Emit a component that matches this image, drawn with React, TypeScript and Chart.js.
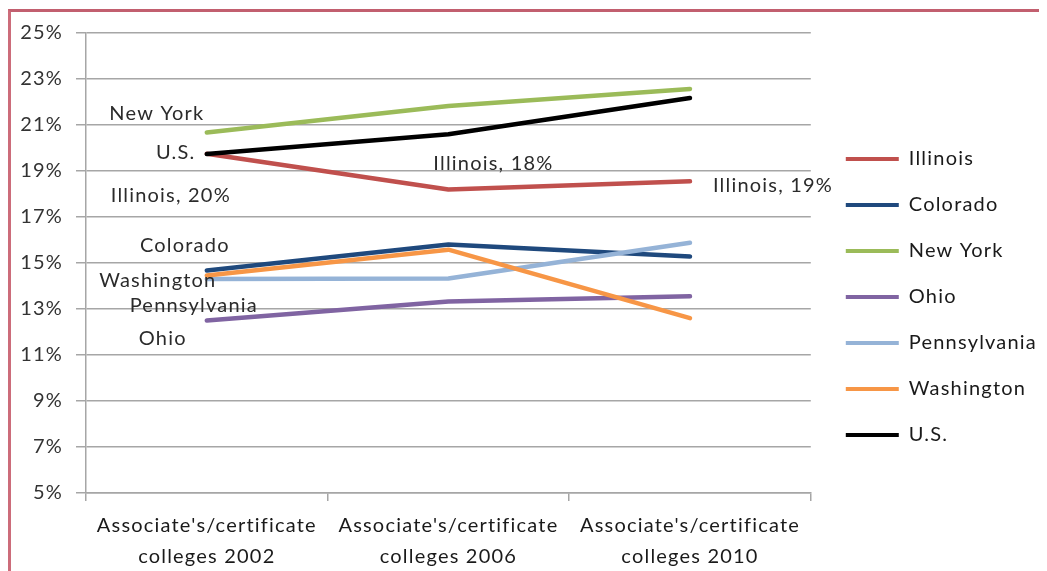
import React, { useEffect, useRef } from 'react';
import { Chart, registerables } from 'chart.js';

Chart.register(...registerables);

// ---- data ----
const categories: string[][] = [
  ["Associate's/certificate", 'colleges 2002'],
  ["Associate's/certificate", 'colleges 2006'],
  ["Associate's/certificate", 'colleges 2010'],
];
const seriesNames = ['Illinois', 'Colorado', 'New York', 'Ohio', 'Pennsylvania', 'Washington', 'U.S.'];
const illinois = [19.75, 18.2, 18.55];
const colorado = [14.67, 15.8, 15.28];
const newYork = [20.67, 21.83, 22.57];
const ohio = [12.5, 13.33, 13.55];
const pennsylvania = [14.3, 14.33, 15.88];
const washington = [14.46, 15.58, 12.6];
const us = [19.74, 20.6, 22.17];
const seriesValues = [illinois, colorado, newYork, ohio, pennsylvania, washington, us];
const yMin = 5;
const yMax = 25;
const yStep = 2;

// data labels: series index, point index, text
const dataLabelSeries = [2, 6, 0, 1, 5, 4, 3, 0, 0];
const dataLabelPoints = [0, 0, 0, 0, 0, 0, 0, 1, 2];
const dataLabelTexts = ['New York', 'U.S.', 'Illinois, 20%', 'Colorado', 'Washington', 'Pennsylvania', 'Ohio', 'Illinois, 18%', 'Illinois, 19%'];

// ---- styles ----
const seriesColors = ['#c0504d', '#1f497d', '#9bbb59', '#8064a2', '#95b3d7', '#f79646', '#000000'];
const labelOffsets: [number, number][] = [
  [-50, -19], [-31, -1], [-36, 42], [-22, -25], [-49, 5], [-13, 26], [-44, 18], [45, -26], [83, 4],
];
const FONT = 'Lato, "DejaVu Sans", sans-serif';
const FS = 20;
const LS = '1.2px';
const GRID = '#a6a6a6';
const W = 1039;
const H = 563;

const spacingPlugin = {
  id: 'letterSpacing',
  beforeInit(chart: any) {
    chart.ctx.letterSpacing = LS;
  },
  beforeUpdate(chart: any) {
    chart.ctx.letterSpacing = LS;
  },
  beforeDraw(chart: any) {
    chart.ctx.letterSpacing = LS;
  },
};

const dataLabelPlugin = {
  id: 'dataLabelText',
  afterDatasetsDraw(chart: any) {
    const ctx = chart.ctx;
    ctx.save();
    ctx.letterSpacing = LS;
    ctx.font = `${FS}px ${FONT}`;
    ctx.fillStyle = '#2b2b2b';
    ctx.textAlign = 'center';
    ctx.textBaseline = 'middle';
    dataLabelTexts.forEach((t, i) => {
      const el = chart.getDatasetMeta(dataLabelSeries[i]).data[dataLabelPoints[i]];
      if (!el) return;
      ctx.fillText(t, el.x + labelOffsets[i][0], el.y + labelOffsets[i][1]);
    });
    ctx.restore();
  },
};

export default function App() {
  const ref = useRef<HTMLCanvasElement>(null);
  useEffect(() => {
    const canvas = ref.current!;
    const mctx = canvas.getContext('2d')!;
    mctx.font = `${FS}px ${FONT}`;
    (mctx as any).letterSpacing = LS;
    const tw = Math.max(...seriesNames.map((n) => mctx.measureText(n).width));
    const padRight = Math.max(0, W - 823 - (26 + 53 + FS / 2 + tw));

    const chart = new Chart(canvas, {
      type: 'line',
      data: {
        labels: categories,
        datasets: seriesNames.map((name, i) => ({
          label: name,
          data: seriesValues[i],
          borderColor: seriesColors[i],
          backgroundColor: seriesColors[i],
          borderWidth: 4.5,
          pointRadius: 0,
          pointHoverRadius: 0,
          tension: 0,
          borderCapStyle: 'round' as const,
          borderJoinStyle: 'round' as const,
          order: seriesNames.length - i,
          xAxisID: 'x',
          yAxisID: 'y',
        })),
      },
      options: {
        responsive: false,
        animation: false,
        devicePixelRatio: 1,
        layout: { padding: { left: 0, top: 15, right: padRight, bottom: 0 } },
        plugins: {
          tooltip: { enabled: false },
          legend: {
            position: 'right',
            align: 'center',
            maxWidth: 400,
            labels: {
              boxWidth: 53,
              boxHeight: 4,
              padding: 26,
              color: '#1a1a1a',
              font: { family: FONT, size: FS },
              sort: (a: any, b: any) => a.datasetIndex - b.datasetIndex,
              generateLabels: (c: any) =>
                Chart.defaults.plugins.legend.labels.generateLabels(c).map((l: any) => ({
                  ...l,
                  lineWidth: 0,
                  fillStyle: l.strokeStyle,
                })),
            },
          },
        },
        scales: {
          x: {
            position: 'bottom',
            offset: true,
            grid: { display: true, drawOnChartArea: false, offset: true, drawTicks: true, tickLength: 8, color: GRID, lineWidth: 1.5 },
            border: { display: true, color: GRID, width: 1.5 },
            ticks: {
              autoSkip: false,
              maxRotation: 0,
              padding: 9,
              color: '#1a1a1a',
              font: { family: FONT, size: FS, lineHeight: '31px' as any },
            },
            afterFit: (s: any) => {
              s.height = 78;
            },
          },
          xSpacer: {
            type: 'category',
            position: 'top',
            display: true,
            grid: { display: false, drawTicks: false },
            ticks: { display: false },
            border: { display: false },
            afterFit: (s: any) => {
              s.height = 9;
            },
          },
          y: {
            position: 'left',
            min: yMin,
            max: yMax,
            ticks: {
              stepSize: yStep,
              padding: 13,
              color: '#333333',
              font: { family: FONT, size: FS },
              callback: (v: any) => `${v}%`,
            },
            grid: { color: GRID, lineWidth: 1.5, tickLength: 10, drawTicks: true },
            border: { display: true, color: GRID, width: 1.5 },
            afterFit: (s: any) => {
              s.width = 78;
            },
          },
          ySpacer: {
            type: 'linear',
            position: 'right',
            display: true,
            grid: { display: false, drawTicks: false },
            ticks: { display: false },
            border: { display: false },
            afterFit: (s: any) => {
              s.width = 9;
            },
          },
        },
      },
      plugins: [spacingPlugin, dataLabelPlugin],
    });
    return () => chart.destroy();
  }, []);

  return (
    <div style={{ position: 'relative', width: W, height: H }}>
      <div
        style={{
          position: 'absolute',
          left: 0,
          top: 1,
          right: 0,
          bottom: 0,
          borderTop: '3px solid #c25f6f',
          borderLeft: '3px solid #cc6c7a',
        }}
      />
      <canvas ref={ref} width={W} height={H} style={{ position: 'absolute', left: 0, top: 0 }} />
    </div>
  );
}
